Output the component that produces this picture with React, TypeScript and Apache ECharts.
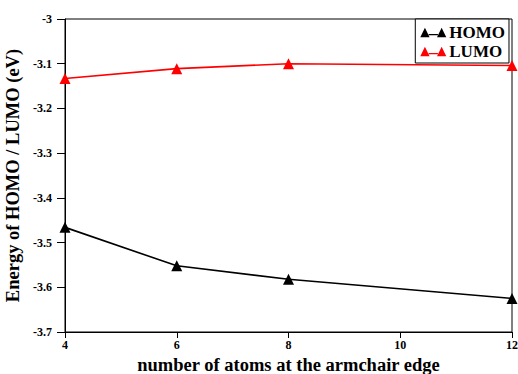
import React, { useEffect, useRef } from "react";
import * as echarts from "echarts";

const atoms = [4, 6, 8, 12];
const homo = [-3.466, -3.552, -3.582, -3.625];
const lumo = [-3.133, -3.111, -3.1, -3.104];

const FONT = "Liberation Serif, DejaVu Serif";
// line with a triangle at each end, used as legend icon
const ICON = "path://M0,10 L5,0 L10,10 Z M18,10 L23,0 L28,10 Z M9,6.5 L19,6.5 L19,8 L9,8 Z";

export default function App() {
  const ref = useRef<HTMLDivElement>(null);
  useEffect(() => {
    const chart = echarts.init(ref.current!, null, { renderer: "svg", width: 518, height: 374 });
    chart.setOption({
      animation: false,
      backgroundColor: "#fff",
      textStyle: { fontFamily: FONT },
      grid: {
        left: 65,
        top: 19,
        width: 447,
        height: 313,
        outerBoundsMode: "none",
        show: true,
        borderColor: "#000",
        borderWidth: 1,
      },
      legend: {
        right: 9,
        top: 19,
        orient: "vertical",
        itemWidth: 26,
        itemHeight: 10,
        itemGap: 2,
        padding: [5, 4, 3, 5],
        borderColor: "#000",
        borderWidth: 1,
        backgroundColor: "#fff",
        textStyle: { fontFamily: FONT, fontWeight: "bold", fontSize: 17, color: "#000", padding: [0, 0, 0, -2] },
        data: [
          { name: "HOMO", icon: ICON },
          { name: "LUMO", icon: ICON },
        ],
      },
      xAxis: {
        type: "value",
        min: 4,
        max: 12,
        interval: 2,
        name: "number of atoms at the armchair edge",
        nameLocation: "middle",
        nameGap: 23,
        nameTextStyle: { fontFamily: FONT, fontWeight: "bold", fontSize: 18.5, color: "#000" },
        axisLine: { lineStyle: { color: "#000", width: 1 } },
        axisTick: { inside: false, length: 6, lineStyle: { color: "#000" } },
        axisLabel: { fontFamily: FONT, fontWeight: "bold", fontSize: 12, color: "#000", margin: 7 },
        splitLine: { show: false },
      },
      yAxis: {
        type: "value",
        min: -3.7,
        max: -3,
        interval: 0.1,
        name: "Energy of HOMO / LUMO (eV)",
        nameLocation: "middle",
        nameGap: 35,
        nameTextStyle: { fontFamily: FONT, fontWeight: "bold", fontSize: 18.5, color: "#000" },
        axisLine: { lineStyle: { color: "#000", width: 1 } },
        axisTick: { inside: false, length: 8, lineStyle: { color: "#000" } },
        axisLabel: {
          fontFamily: FONT,
          fontWeight: "bold",
          fontSize: 12,
          color: "#000",
          margin: 13,
          formatter: (v: number) => String(Math.round(v * 10) / 10),
        },
        splitLine: { show: false },
      },
      series: [
        {
          name: "HOMO",
          type: "line",
          data: atoms.map((a, i) => [a, homo[i]]),
          symbol: "triangle",
          symbolSize: 11,
          color: "#000",
          lineStyle: { color: "#000", width: 1.6 },
          itemStyle: { color: "#000" },
        },
        {
          name: "LUMO",
          type: "line",
          data: atoms.map((a, i) => [a, lumo[i]]),
          symbol: "triangle",
          symbolSize: 11,
          color: "#ff0000",
          lineStyle: { color: "#ff0000", width: 1.6 },
          itemStyle: { color: "#ff0000" },
        },
      ],
    });
    return () => chart.dispose();
  }, []);
  return <div ref={ref} style={{ width: 518, height: 374, position: "absolute", left: 0, top: 0 }} />;
}
